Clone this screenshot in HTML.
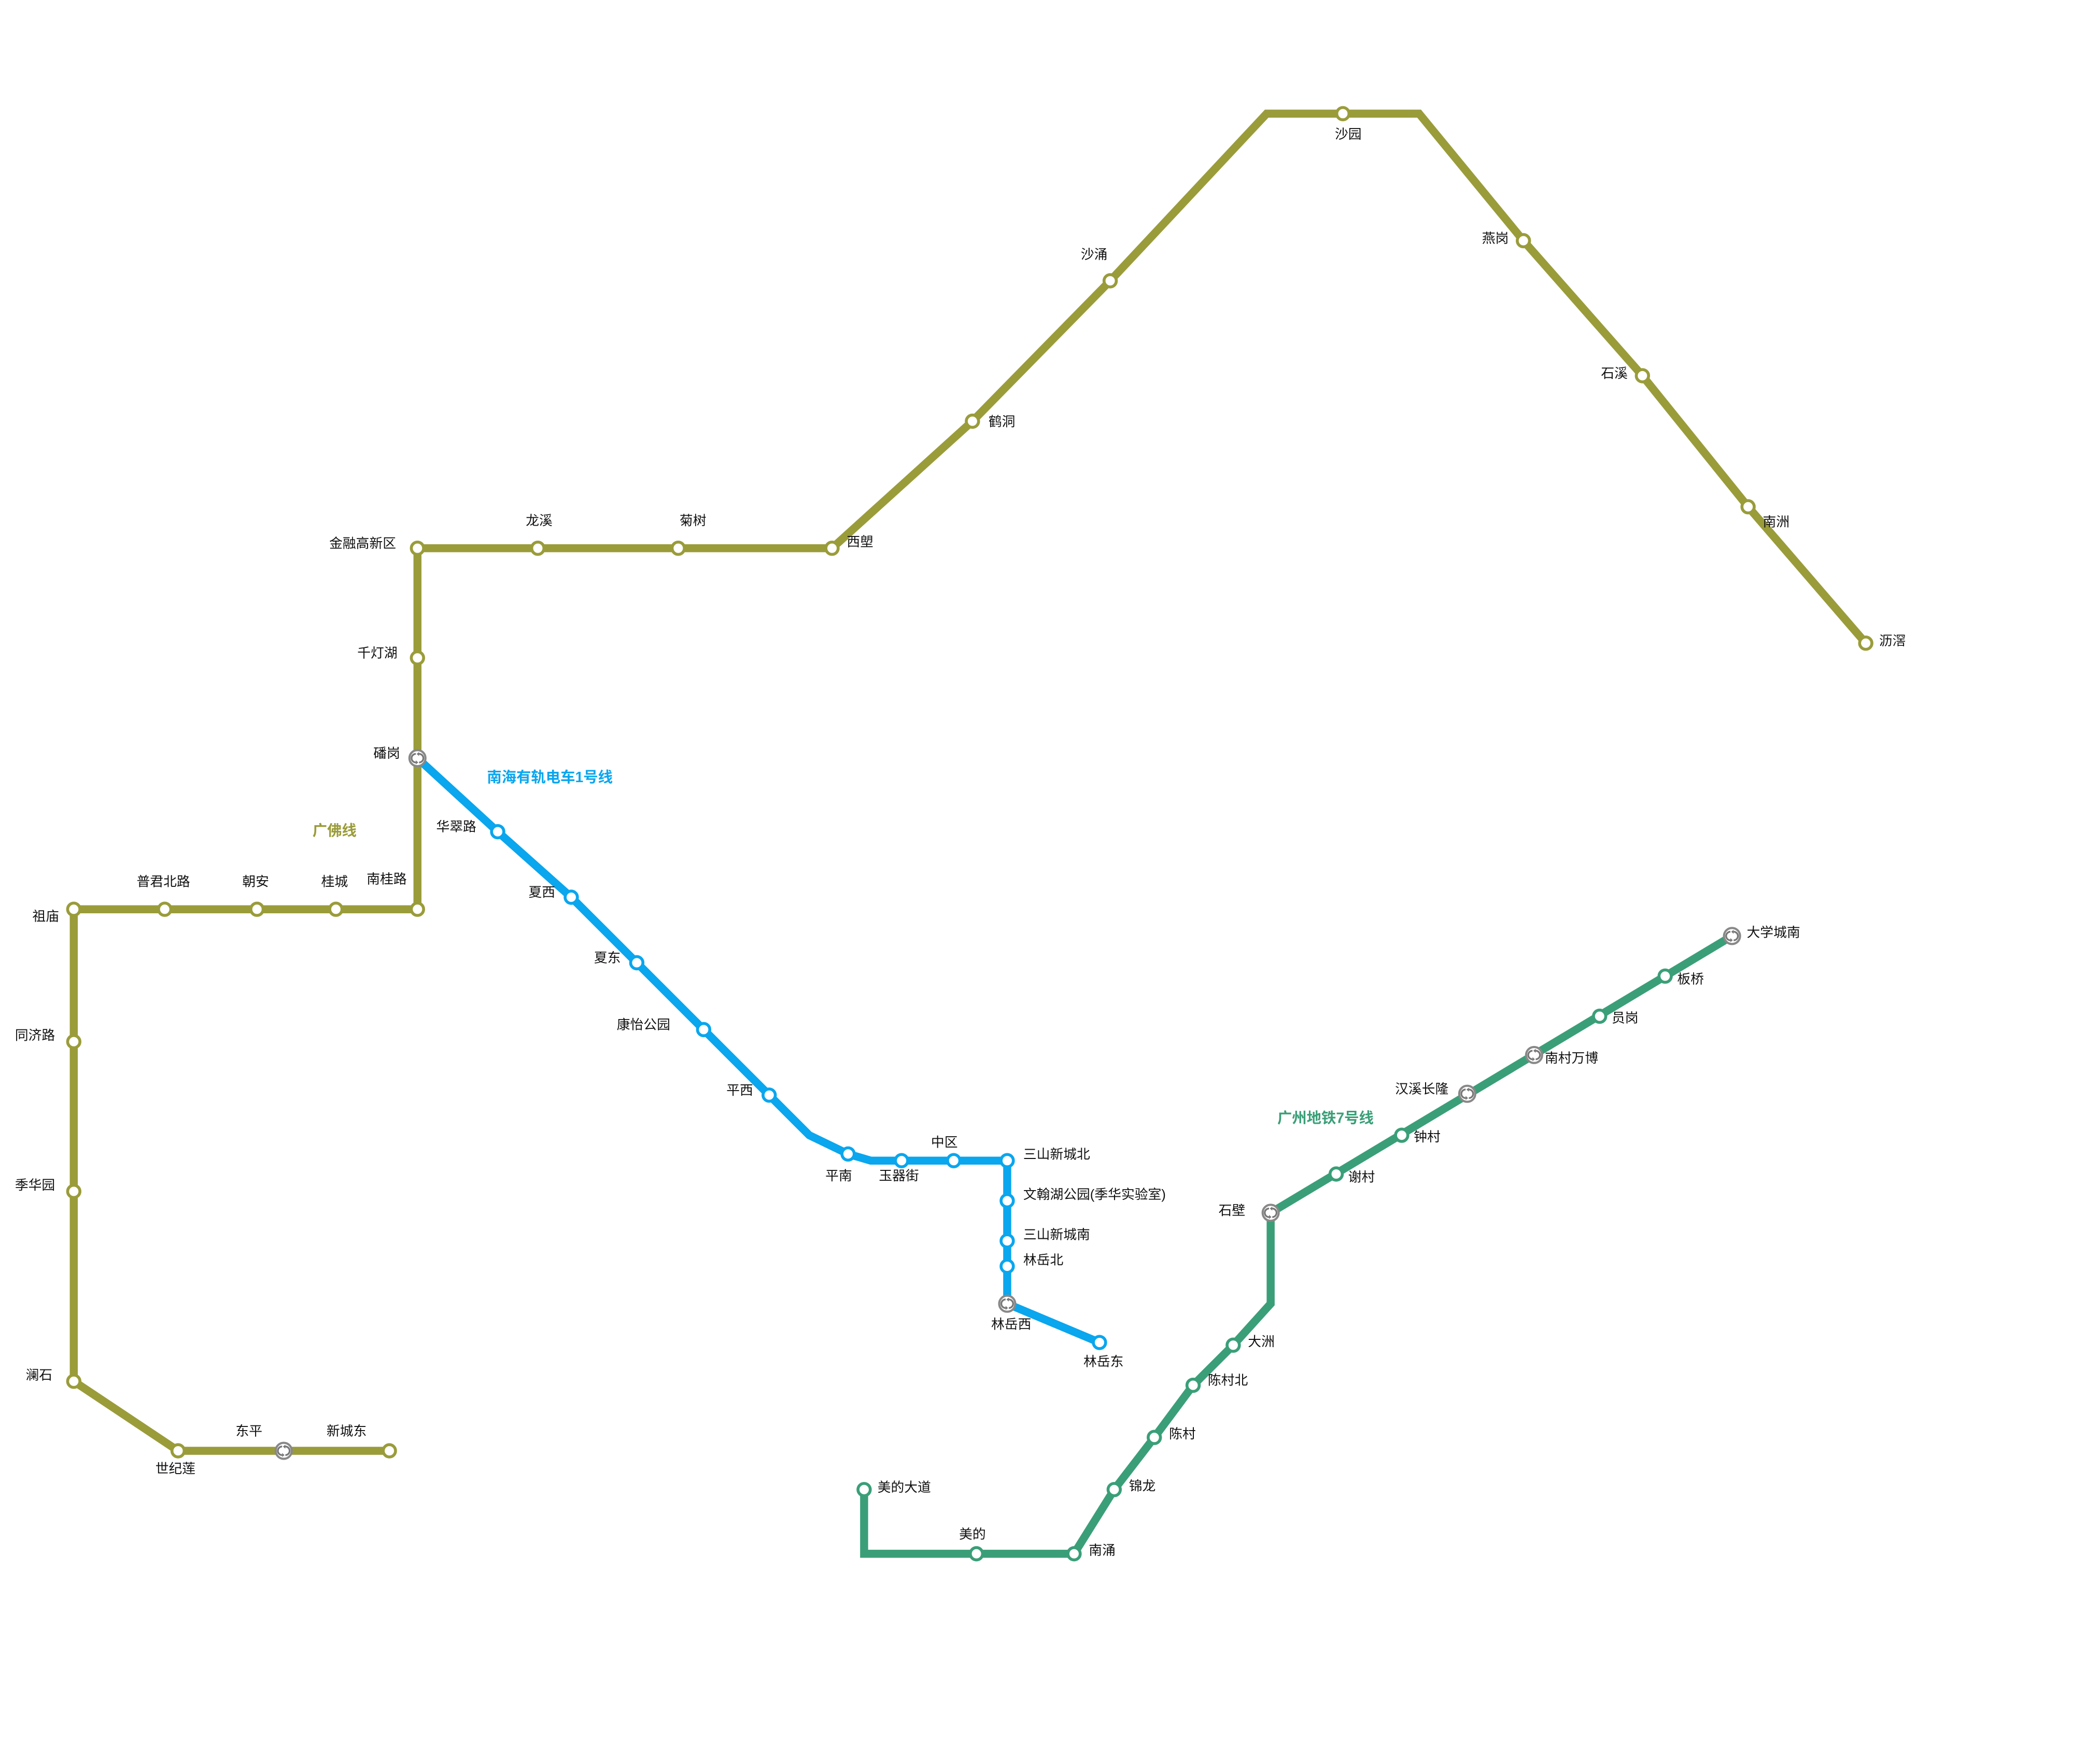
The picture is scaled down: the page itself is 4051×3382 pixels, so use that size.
<!DOCTYPE html>
<html><head><meta charset="utf-8">
<style>
html,body{margin:0;padding:0;background:#fff;}
svg{display:block;}
text{font-family:"Liberation Sans","Noto Sans CJK SC",sans-serif;font-size:10px;fill:#111;dominant-baseline:middle;}
.b{font-weight:bold;font-size:11px;}
.st{fill:#fff;stroke-width:2.2;}
</style></head><body>
<svg width="4051" height="3382" viewBox="0 0 1570 1311" xmlns="http://www.w3.org/2000/svg">
<defs>
<g id="ic"><circle r="6" fill="#fff" stroke="#888" stroke-width="1.6"/><path d="M-1.2,-3.2 A3.2,3.2 0 0 0 -1.2,3.2 M1.2,3.2 A3.2,3.2 0 0 0 1.2,-3.2" fill="none" stroke="#777" stroke-width="1.3"/><path d="M-1.2,1.6 L-1.2,4.6 L0.6,3.2Z M1.2,-1.6 L1.2,-4.6 L-0.6,-3.2Z" fill="#777"/></g>
</defs>
<g transform="translate(1,0)">
<polyline fill="none" stroke="#9a9c3a" stroke-width="6" stroke-linejoin="miter" points="290,1085 132,1085 54,1033 54,680 311,680 311,410 621,410 726,315 829,210 946,85 1060,85 1138,180 1227,281 1306,379 1394,481"/>
<polyline fill="none" stroke="#0aa6ee" stroke-width="6" stroke-linejoin="round" points="311,567 371,622 426,671 475,720 525,770 574,819 604,849 633,863 650,868 752,868 752,975 821,1004"/>
<polyline fill="none" stroke="#3a9f78" stroke-width="6" stroke-linejoin="miter" points="645,1114 645,1162 802,1162 832,1114 862,1075 891,1036 921,1006 949,975 949,907 1294,700"/>

<g class="st" stroke="#9a9c3a">
<circle cx="290" cy="1085" r="4.6"/><circle cx="132" cy="1085" r="4.6"/><circle cx="54" cy="1033" r="4.6"/><circle cx="54" cy="891" r="4.6"/><circle cx="54" cy="779" r="4.6"/><circle cx="54" cy="680" r="4.6"/><circle cx="122" cy="680" r="4.6"/><circle cx="191" cy="680" r="4.6"/><circle cx="250" cy="680" r="4.6"/><circle cx="311" cy="680" r="4.6"/><circle cx="311" cy="492" r="4.6"/><circle cx="311" cy="410" r="4.6"/><circle cx="401" cy="410" r="4.6"/><circle cx="506" cy="410" r="4.6"/><circle cx="621" cy="410" r="4.6"/><circle cx="726" cy="315" r="4.6"/><circle cx="829" cy="210" r="4.6"/><circle cx="1003" cy="85" r="4.6"/><circle cx="1138" cy="180" r="4.6"/><circle cx="1227" cy="281" r="4.6"/><circle cx="1306" cy="379" r="4.6"/><circle cx="1394" cy="481" r="4.6"/>
</g>
<g class="st" stroke="#0aa6ee">
<circle cx="371" cy="622" r="4.6"/><circle cx="426" cy="671" r="4.6"/><circle cx="475" cy="720" r="4.6"/><circle cx="525" cy="770" r="4.6"/><circle cx="574" cy="819" r="4.6"/><circle cx="633" cy="863" r="4.6"/><circle cx="673" cy="868" r="4.6"/><circle cx="712" cy="868" r="4.6"/><circle cx="752" cy="868" r="4.6"/><circle cx="752" cy="898" r="4.6"/><circle cx="752" cy="928" r="4.6"/><circle cx="752" cy="947" r="4.6"/><circle cx="821" cy="1004" r="4.6"/>
</g>
<g class="st" stroke="#3a9f78">
<circle cx="645" cy="1114" r="4.6"/><circle cx="729" cy="1162" r="4.6"/><circle cx="802" cy="1162" r="4.6"/><circle cx="832" cy="1114" r="4.6"/><circle cx="862" cy="1075" r="4.6"/><circle cx="891" cy="1036" r="4.6"/><circle cx="921" cy="1006" r="4.6"/><circle cx="998" cy="878" r="4.6"/><circle cx="1047" cy="849" r="4.6"/><circle cx="1195" cy="760" r="4.6"/><circle cx="1244" cy="730" r="4.6"/>
</g>
<use href="#ic" x="311" y="567"/><use href="#ic" x="211" y="1085"/><use href="#ic" x="752" y="975"/>
<use href="#ic" x="949" y="907"/><use href="#ic" x="1096" y="818"/><use href="#ic" x="1146" y="789"/><use href="#ic" x="1294" y="700"/>

<text x="258" y="1071" text-anchor="middle">新城东</text>
<text x="185" y="1071" text-anchor="middle">东平</text>
<text x="130" y="1099" text-anchor="middle">世纪莲</text>
<text x="38" y="1029" text-anchor="end">澜石</text>
<text x="40" y="887" text-anchor="end">季华园</text>
<text x="40" y="775" text-anchor="end">同济路</text>
<text x="43" y="686" text-anchor="end">祖庙</text>
<text x="121" y="660" text-anchor="middle">普君北路</text>
<text x="190" y="660" text-anchor="middle">朝安</text>
<text x="249" y="660" text-anchor="middle">桂城</text>
<text x="288" y="658" text-anchor="middle">南桂路</text>
<text x="298" y="564" text-anchor="end">磻岗</text>
<text x="296" y="489" text-anchor="end">千灯湖</text>
<text x="295" y="407" text-anchor="end">金融高新区</text>
<text x="402" y="390" text-anchor="middle">龙溪</text>
<text x="517" y="390" text-anchor="middle">菊树</text>
<text x="632" y="406">西塱</text>
<text x="738" y="316">鹤洞</text>
<text x="817" y="191" text-anchor="middle">沙涌</text>
<text x="1007" y="101" text-anchor="middle">沙园</text>
<text x="1127" y="179" text-anchor="end">燕岗</text>
<text x="1216" y="280" text-anchor="end">石溪</text>
<text x="1317" y="391">南洲</text>
<text x="1404" y="480">沥滘</text>
<text class="b" x="249" y="622" text-anchor="middle" style="fill:#9a9c3a">广佛线</text>

<text x="355" y="619" text-anchor="end">华翠路</text>
<text x="414" y="668" text-anchor="end">夏西</text>
<text x="463" y="717" text-anchor="end">夏东</text>
<text x="500" y="767" text-anchor="end">康怡公园</text>
<text x="562" y="816" text-anchor="end">平西</text>
<text x="626" y="880" text-anchor="middle">平南</text>
<text x="671" y="880" text-anchor="middle">玉器街</text>
<text x="705" y="855" text-anchor="middle">中区</text>
<text x="764" y="864">三山新城北</text>
<text x="764" y="894">文翰湖公园(季华实验室)</text>
<text x="764" y="924">三山新城南</text>
<text x="764" y="943">林岳北</text>
<text x="755" y="991" text-anchor="middle">林岳西</text>
<text x="824" y="1019" text-anchor="middle">林岳东</text>
<text class="b" x="410" y="582" text-anchor="middle" style="fill:#0aa6ee">南海有轨电车1号线</text>

<text x="655" y="1113">美的大道</text>
<text x="726" y="1148" text-anchor="middle">美的</text>
<text x="813" y="1160">南涌</text>
<text x="843" y="1112">锦龙</text>
<text x="873" y="1073">陈村</text>
<text x="902" y="1033">陈村北</text>
<text x="932" y="1004">大洲</text>
<text x="930" y="906" text-anchor="end">石壁</text>
<text x="1007" y="881">谢村</text>
<text x="1056" y="851">钟村</text>
<text x="1082" y="815" text-anchor="end">汉溪长隆</text>
<text x="1154" y="792">南村万博</text>
<text x="1204" y="762">员岗</text>
<text x="1253" y="733">板桥</text>
<text x="1305" y="698">大学城南</text>
<text class="b" x="990" y="837" text-anchor="middle" style="fill:#3a9f78">广州地铁7号线</text>
</g>
</svg>
</body></html>
